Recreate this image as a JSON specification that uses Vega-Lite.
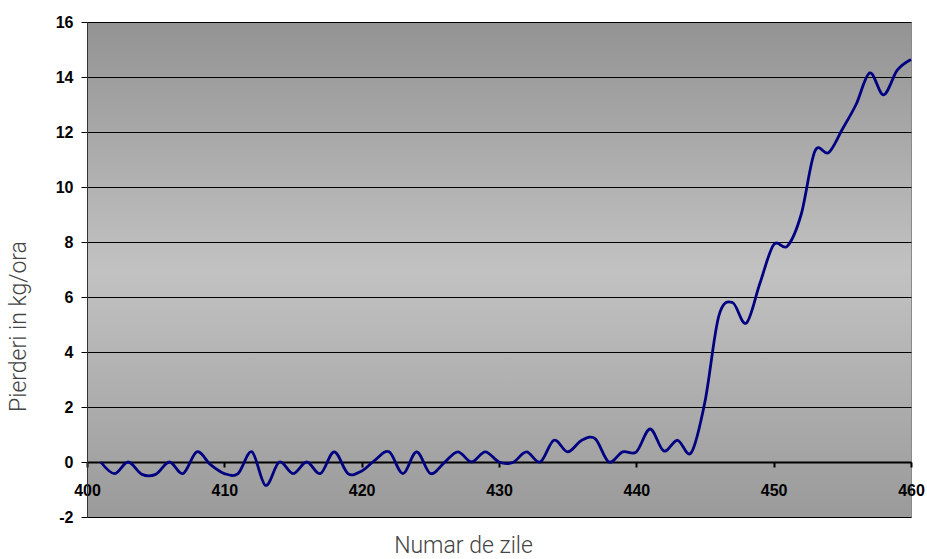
{
  "$schema": "https://vega.github.io/schema/vega-lite/v6.json",
  "width": 824,
  "height": 495,
  "autosize": {"type": "none"},
  "padding": {"left": 87, "top": 22, "right": 16, "bottom": 42},
  "background": "white",
  "view": {
    "fill": {"gradient": "linear", "x1": 0, "y1": 0, "x2": 0, "y2": 1,
      "stops": [{"offset": 0, "color": "#939393"}, {"offset": 0.5, "color": "#c2c2c2"}, {"offset": 1, "color": "#9a9a9a"}]},
    "stroke": "#8a8a8a",
    "strokeWidth": 1
  },
  "data": {
    "values": [
      {"day": 401, "loss": 0}, {"day": 402, "loss": -0.42}, {"day": 403, "loss": 0},
      {"day": 404, "loss": -0.45}, {"day": 405, "loss": -0.45}, {"day": 406, "loss": 0},
      {"day": 407, "loss": -0.42}, {"day": 408, "loss": 0.37}, {"day": 409, "loss": -0.1},
      {"day": 410, "loss": -0.42}, {"day": 411, "loss": -0.42}, {"day": 412, "loss": 0.37},
      {"day": 413, "loss": -0.85}, {"day": 414, "loss": 0}, {"day": 415, "loss": -0.42},
      {"day": 416, "loss": 0}, {"day": 417, "loss": -0.42}, {"day": 418, "loss": 0.37},
      {"day": 419, "loss": -0.42}, {"day": 420, "loss": -0.33}, {"day": 421, "loss": 0.08},
      {"day": 422, "loss": 0.37}, {"day": 423, "loss": -0.42}, {"day": 424, "loss": 0.37},
      {"day": 425, "loss": -0.42}, {"day": 426, "loss": -0.03}, {"day": 427, "loss": 0.37},
      {"day": 428, "loss": 0}, {"day": 429, "loss": 0.37}, {"day": 430, "loss": 0},
      {"day": 431, "loss": -0.02}, {"day": 432, "loss": 0.37}, {"day": 433, "loss": 0},
      {"day": 434, "loss": 0.79}, {"day": 435, "loss": 0.37}, {"day": 436, "loss": 0.78},
      {"day": 437, "loss": 0.85}, {"day": 438, "loss": 0}, {"day": 439, "loss": 0.37},
      {"day": 440, "loss": 0.37}, {"day": 441, "loss": 1.2}, {"day": 442, "loss": 0.4},
      {"day": 443, "loss": 0.79}, {"day": 444, "loss": 0.34}, {"day": 445, "loss": 2.2},
      {"day": 446, "loss": 5.3}, {"day": 447, "loss": 5.8}, {"day": 448, "loss": 5.05},
      {"day": 449, "loss": 6.5}, {"day": 450, "loss": 7.9}, {"day": 451, "loss": 7.85},
      {"day": 452, "loss": 9.0}, {"day": 453, "loss": 11.3}, {"day": 454, "loss": 11.25},
      {"day": 455, "loss": 12.1}, {"day": 456, "loss": 13.0}, {"day": 457, "loss": 14.15},
      {"day": 458, "loss": 13.35}, {"day": 459, "loss": 14.25}, {"day": 460, "loss": 14.64}
    ]
  },
  "mark": {"type": "line", "interpolate": "cardinal", "color": "#000080", "strokeWidth": 2.8, "clip": false},
  "encoding": {
    "x": {
      "field": "day", "type": "quantitative",
      "scale": {"domain": [400, 460], "nice": false, "zero": false},
      "axis": {
        "title": "Numar de zile",
        "values": [400, 410, 420, 430, 440, 450, 460],
        "offset": -55,
        "grid": false,
        "labelFlush": false,
        "domainColor": "black", "domainWidth": 2,
        "tickColor": "black", "tickSize": 5, "tickWidth": 2,
        "labelFont": "Liberation Sans", "labelFontWeight": "bold", "labelFontSize": 16,
        "labelColor": "black", "labelPadding": 15,
        "titleFont": "Roboto Light, Roboto", "titleFontWeight": 300, "titleFontSize": 23,
        "titleColor": "#444444",
        "titleX": 376, "titleY": 90, "titleBaseline": "alphabetic", "titleAnchor": null, "titleAlign": "center"
      }
    },
    "y": {
      "field": "loss", "type": "quantitative",
      "scale": {"domain": [-2, 16], "nice": false, "zero": false},
      "axis": {
        "title": "Pierderi in kg/ora",
        "values": [-2, 0, 2, 4, 6, 8, 10, 12, 14, 16],
        "labelExpr": "'' + datum.value",
        "grid": true, "gridColor": "black", "gridWidth": 1, "gridOpacity": 1,
        "domainColor": "#333333", "domainWidth": 1,
        "tickColor": "black", "tickSize": 6, "tickWidth": 1,
        "labelFont": "Liberation Sans", "labelFontWeight": "bold", "labelFontSize": 16,
        "labelColor": "black", "labelPadding": 8,
        "titleFont": "Roboto Light, Roboto", "titleFontWeight": 300, "titleFontSize": 23,
        "titleColor": "#444444",
        "titleAngle": -90, "titleX": -62, "titleY": 304, "titleBaseline": "alphabetic", "titleAlign": "center"
      }
    }
  }
}
